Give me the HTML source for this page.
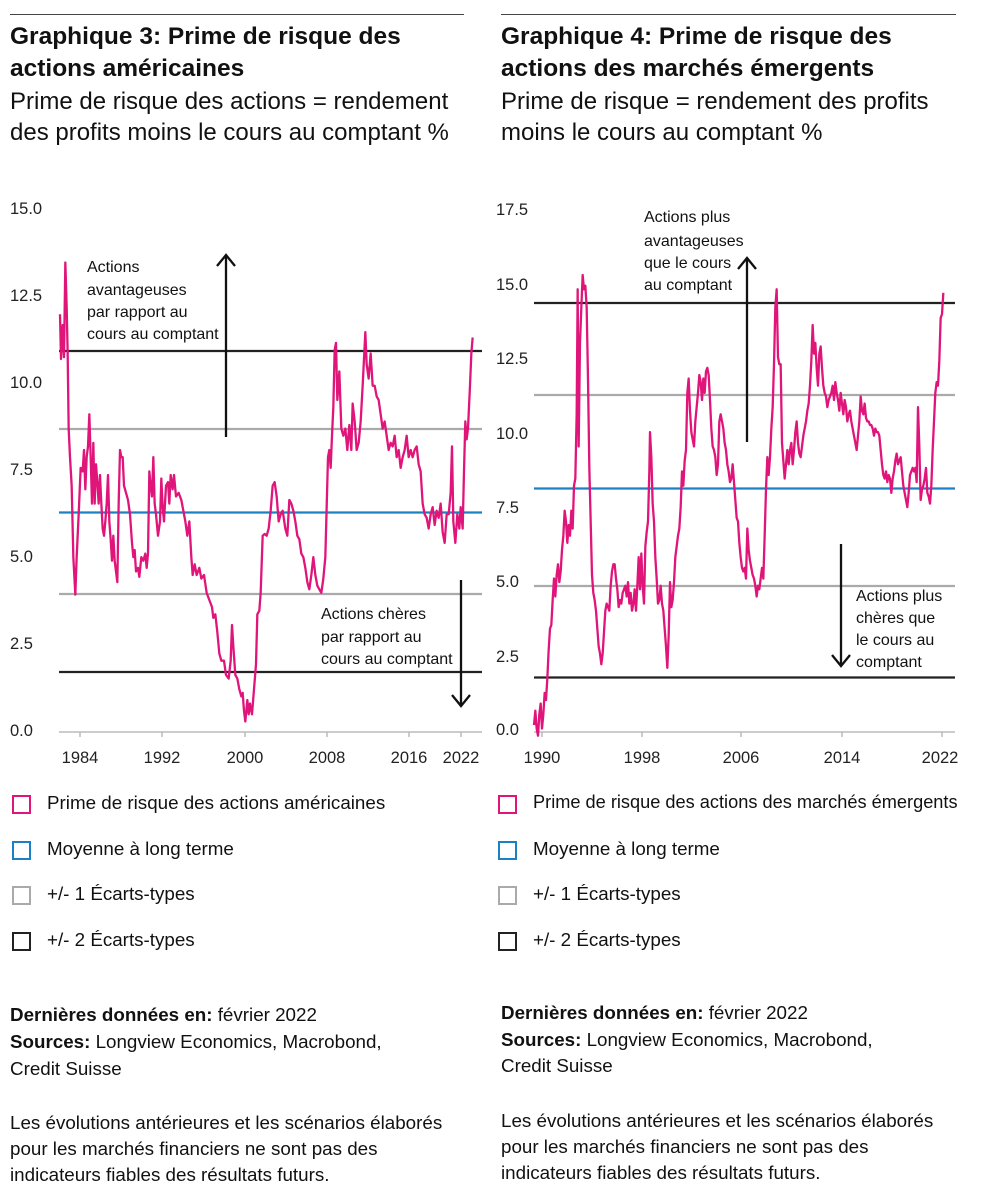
<!DOCTYPE html>
<html><head><meta charset="utf-8"><style>
body{margin:0;background:#fff;width:988px;height:1200px;position:relative;font-family:"Liberation Sans",sans-serif;color:#111;overflow:hidden}
.t{position:absolute;white-space:nowrap}
.h{font-weight:bold;font-size:24.5px}
.s{font-size:24px}
.lg{font-size:18.8px}
.sq{position:absolute;width:15px;height:15px;border:2px solid}
.f{font-size:18.8px}
</style></head><body>
<div style="position:absolute;left:10px;top:14px;width:454px;border-top:1px solid #444"></div>
<div style="position:absolute;left:501px;top:14px;width:455px;border-top:1px solid #444"></div>

<div class="t h" style="left:10px;top:23px">Graphique 3: Prime de risque des</div>
<div class="t h" style="left:10px;top:55px">actions américaines</div>
<div class="t s" style="left:10px;top:88px">Prime de risque des actions = rendement</div>
<div class="t s" style="left:10px;top:119px">des profits moins le cours au comptant %</div>

<div class="t h" style="left:501px;top:23px">Graphique 4: Prime de risque des</div>
<div class="t h" style="left:501px;top:55px">actions des marchés émergents</div>
<div class="t s" style="left:501px;top:88px">Prime de risque = rendement des profits</div>
<div class="t s" style="left:501px;top:119px">moins le cours au comptant %</div>

<svg width="988" height="1200" style="position:absolute;left:0;top:0" font-family="Liberation Sans, sans-serif">
<g font-size="16.5" fill="#222">
<text x="10" y="214">15.0</text><text x="10" y="301">12.5</text><text x="10" y="388">10.0</text><text x="10" y="475">7.5</text><text x="10" y="562">5.0</text><text x="10" y="649">2.5</text><text x="10" y="736">0.0</text>
<text x="496" y="215">17.5</text><text x="496" y="290">15.0</text><text x="496" y="364">12.5</text><text x="496" y="439">10.0</text><text x="496" y="513">7.5</text><text x="496" y="587">5.0</text><text x="496" y="662">2.5</text><text x="496" y="735">0.0</text>
<g text-anchor="middle">
<text x="80" y="763">1984</text><text x="162" y="763">1992</text><text x="245" y="763">2000</text><text x="327" y="763">2008</text><text x="409" y="763">2016</text><text x="461" y="763">2022</text>
<text x="542" y="763">1990</text><text x="642" y="763">1998</text><text x="741" y="763">2006</text><text x="842" y="763">2014</text><text x="940" y="763">2022</text>
</g></g>
<g stroke="#bbb" stroke-width="1.5">
<line x1="59" y1="732" x2="482" y2="732"/><line x1="534" y1="732" x2="955" y2="732"/>
<line x1="80" y1="732" x2="80" y2="737"/><line x1="162" y1="732" x2="162" y2="737"/><line x1="245" y1="732" x2="245" y2="737"/><line x1="327" y1="732" x2="327" y2="737"/><line x1="409" y1="732" x2="409" y2="737"/><line x1="461" y1="732" x2="461" y2="737"/>
<line x1="542" y1="732" x2="542" y2="737"/><line x1="642" y1="732" x2="642" y2="737"/><line x1="741" y1="732" x2="741" y2="737"/><line x1="842" y1="732" x2="842" y2="737"/><line x1="942" y1="732" x2="942" y2="737"/>
</g>
<g stroke-width="2.2">
<line x1="59" y1="351" x2="482" y2="351" stroke="#222"/>
<line x1="59" y1="429" x2="482" y2="429" stroke="#aaa"/>
<line x1="59" y1="512.5" x2="482" y2="512.5" stroke="#1b80c4"/>
<line x1="59" y1="594" x2="482" y2="594" stroke="#aaa"/>
<line x1="59" y1="672" x2="482" y2="672" stroke="#222"/>
<line x1="534" y1="303" x2="955" y2="303" stroke="#222"/>
<line x1="534" y1="395" x2="955" y2="395" stroke="#aaa"/>
<line x1="534" y1="488.5" x2="955" y2="488.5" stroke="#1b80c4"/>
<line x1="534" y1="586" x2="955" y2="586" stroke="#aaa"/>
<line x1="534" y1="677.5" x2="955" y2="677.5" stroke="#222"/>
</g>
<g fill="none" stroke="#e0157a" stroke-width="2.3" stroke-linejoin="round">
<g transform="translate(0,200) scale(0.33333,0.35714)">
<polyline vector-effect="non-scaling-stroke" points="180,320 183,445 188,350 192,440 196,175 200,300 203,430 206,640 210,720 215,800 220,1000 226,1105 230,1000 236,880 242,750 248,760 252,700 256,810 260,720 264,690 268,600 272,720 276,850 280,680 284,850 288,740 292,790 296,850 300,770 304,850 308,920 312,940 316,900 320,850 324,770 328,900 332,950 336,1010 340,940 344,1010 348,1040 352,1070 356,850 360,700 364,720 368,720 372,800 378,820 384,840 390,880 396,960 400,1000 404,980 408,1040 414,1030 418,1055 424,1000 430,1010 436,990 440,1030 444,990 448,760 452,800 456,830 460,720 464,850 468,880 474,940 480,900 484,780 488,860 492,900 498,800 504,790 508,850 512,770 518,810 522,770 528,830 536,820 544,840 550,870 556,900 562,940 568,900 574,1000 578,1050 584,1020 590,1050 598,1030 604,1060 612,1050 620,1100 628,1120 636,1140 640,1170 646,1160 652,1210 658,1270 664,1290 672,1290 678,1330 686,1340 692,1290 696,1190 700,1250 706,1330 712,1340 718,1370 724,1390 728,1380 732,1430 736,1460 742,1400 746,1440 750,1410 756,1440 762,1370 768,1300 772,1160 778,1150 782,1100 788,940 794,935 800,940 806,920 812,870 818,800 824,790 830,830 836,900 842,880 848,870 856,920 862,940 868,840 874,850 880,870 886,900 892,940 898,950 904,990 910,1000 916,1030 922,1070 928,1090 934,1050 940,1000 946,1050 952,1080 958,1090 964,1100 970,1060 976,1000 980,860 984,720 988,700 992,750 996,660 1000,580 1004,420 1008,400 1012,560 1018,480 1024,640 1030,660 1036,640 1042,700 1048,630 1054,700 1058,570 1064,620 1070,700 1076,680 1082,620 1088,520 1096,370 1100,460 1106,500 1112,430 1118,520 1124,520 1130,550 1136,560 1142,600 1148,640 1154,620 1160,660 1166,700 1172,680 1178,690 1184,660 1190,720 1196,700 1202,750 1208,720 1214,700 1220,660 1226,720 1232,700 1238,720 1244,700 1250,690 1256,740 1262,760 1268,850 1274,880 1280,890 1286,920 1292,880 1298,860 1304,910 1310,870 1316,890 1322,850 1328,930 1334,960 1340,880 1346,880 1352,820 1356,690 1360,900 1366,960 1372,880 1378,920 1382,860 1388,920 1392,760 1396,620 1400,670 1404,640 1410,520 1414,430 1418,385"/>
</g>
<g transform="translate(490,200) scale(0.33333,0.35714)">
<polyline vector-effect="non-scaling-stroke" points="132,1470 136,1430 140,1480 144,1500 148,1440 152,1410 156,1480 160,1440 164,1380 168,1400 172,1340 176,1260 180,1200 184,1190 188,1120 192,1060 196,1110 200,1050 204,1020 208,1070 212,1040 216,980 220,940 224,870 228,900 232,960 236,910 240,940 244,870 248,920 252,800 256,780 260,600 263,250 266,690 270,400 274,300 278,210 282,250 286,240 290,300 294,500 298,750 302,900 306,1050 310,1100 314,1120 318,1150 322,1200 326,1250 330,1270 334,1300 338,1270 342,1210 346,1150 350,1130 354,1140 358,1150 362,1080 366,1040 370,1020 374,1020 378,1060 382,1090 386,1140 390,1120 394,1130 398,1100 402,1090 406,1080 410,1110 414,1070 418,1130 422,1100 426,1150 430,1130 434,1090 438,1150 442,1080 446,1000 450,1090 454,990 458,1080 462,1130 466,970 470,930 474,900 478,760 480,650 484,720 488,850 492,900 496,1000 500,1060 504,1130 508,1120 512,1080 516,1130 520,1150 524,1200 528,1250 532,1310 536,1220 540,1070 544,1140 548,1120 552,1070 556,1000 560,970 564,940 568,920 572,860 576,760 580,800 584,730 588,700 592,540 596,500 600,590 604,650 608,670 612,690 616,620 620,580 624,540 628,490 632,510 636,560 640,500 644,540 648,480 652,470 656,490 660,560 664,640 668,690 672,700 676,720 680,770 684,740 688,620 692,600 696,620 700,640 704,680 708,700 712,740 716,760 720,790 724,780 728,740 732,790 736,840 740,890 744,900 748,960 752,1000 756,1030 760,1040 764,1030 768,1060 772,920 776,980 780,1010 784,1030 788,1050 792,1060 796,1080 800,1110 804,1080 808,1090 812,1060 816,1030 820,1060 824,940 828,810 832,720 836,770 840,720 844,640 848,580 852,460 856,300 860,250 864,440 868,460 872,460 876,680 880,730 884,780 888,740 892,700 896,740 900,700 904,680 908,740 912,700 916,650 920,620 924,680 928,710 932,720 936,690 940,660 944,640 948,620 952,590 956,570 960,520 964,450 968,350 972,430 976,400 980,470 984,520 988,430 992,410 996,470 1000,520 1004,540 1008,550 1012,580 1016,560 1020,550 1024,540 1028,520 1032,560 1036,510 1040,540 1044,560 1048,590 1052,540 1056,570 1060,600 1064,560 1068,580 1072,620 1076,600 1080,590 1084,620 1088,640 1092,660 1096,680 1100,700 1104,660 1108,620 1112,550 1116,590 1120,600 1124,570 1128,610 1132,620 1136,620 1140,630 1144,630 1148,640 1152,660 1156,640 1160,650 1164,650 1168,660 1172,700 1176,740 1180,770 1184,780 1188,760 1192,790 1196,770 1200,780 1204,820 1208,780 1212,760 1216,730 1220,710 1224,740 1228,730 1232,720 1236,760 1240,800 1244,820 1248,840 1252,860 1256,820 1260,770 1264,760 1268,750 1272,760 1276,750 1280,790 1284,580 1288,690 1292,840 1296,810 1300,800 1304,780 1308,750 1312,820 1316,830 1320,850 1324,800 1328,700 1332,620 1336,540 1340,510 1344,520 1348,450 1352,330 1356,320 1360,260"/>
</g></g>
<g stroke="#111" stroke-width="2.3" fill="none">
<line x1="226" y1="437" x2="226" y2="256"/><polyline points="217,266 226,255 235,266"/>
<line x1="461" y1="580" x2="461" y2="705"/><polyline points="452,695 461,706 470,695"/>
<line x1="747" y1="442" x2="747" y2="259"/><polyline points="738,269 747,258 756,269"/>
<line x1="841" y1="544" x2="841" y2="665"/><polyline points="832,655 841,666 850,655"/>
</g>
<g font-size="16" fill="#111">
<text x="87" y="272">Actions</text><text x="87" y="295">avantageuses</text><text x="87" y="317">par rapport au</text><text x="87" y="339">cours au comptant</text>
<text x="321" y="619">Actions chères</text><text x="321" y="642">par rapport au</text><text x="321" y="664">cours au comptant</text>
<text x="644" y="222">Actions plus</text><text x="644" y="246">avantageuses</text><text x="644" y="268">que le cours</text><text x="644" y="290">au comptant</text>
<text x="856" y="601">Actions plus</text><text x="856" y="623">chères que</text><text x="856" y="645">le cours au</text><text x="856" y="667">comptant</text>
</g>
</svg>

<div class="sq" style="left:12px;top:795px;border-color:#e0157a"></div><div class="t lg" style="left:47px;top:792px">Prime de risque des actions américaines</div>
<div class="sq" style="left:12px;top:841px;border-color:#1b80c4"></div><div class="t lg" style="left:47px;top:838px">Moyenne à long terme</div>
<div class="sq" style="left:12px;top:886px;border-color:#aaa"></div><div class="t lg" style="left:47px;top:883px">+/- 1 Écarts-types</div>
<div class="sq" style="left:12px;top:932px;border-color:#222"></div><div class="t lg" style="left:47px;top:929px">+/- 2 Écarts-types</div>

<div class="sq" style="left:498px;top:795px;border-color:#e0157a"></div><div class="t lg" style="left:533px;top:792px;font-size:18.2px">Prime de risque des actions des marchés émergents</div>
<div class="sq" style="left:498px;top:841px;border-color:#1b80c4"></div><div class="t lg" style="left:533px;top:838px">Moyenne à long terme</div>
<div class="sq" style="left:498px;top:886px;border-color:#aaa"></div><div class="t lg" style="left:533px;top:883px">+/- 1 Écarts-types</div>
<div class="sq" style="left:498px;top:932px;border-color:#222"></div><div class="t lg" style="left:533px;top:929px">+/- 2 Écarts-types</div>

<div class="t f" style="left:10px;top:1004px"><b>Dernières données en:</b> février 2022</div>
<div class="t f" style="left:10px;top:1031px"><b>Sources:</b> Longview Economics, Macrobond,</div>
<div class="t f" style="left:10px;top:1058px">Credit Suisse</div>
<div class="t f" style="left:10px;top:1112px">Les évolutions antérieures et les scénarios élaborés</div>
<div class="t f" style="left:10px;top:1138px">pour les marchés financiers ne sont pas des</div>
<div class="t f" style="left:10px;top:1164px">indicateurs fiables des résultats futurs.</div>

<div class="t f" style="left:501px;top:1002px"><b>Dernières données en:</b> février 2022</div>
<div class="t f" style="left:501px;top:1029px"><b>Sources:</b> Longview Economics, Macrobond,</div>
<div class="t f" style="left:501px;top:1055px">Credit Suisse</div>
<div class="t f" style="left:501px;top:1110px">Les évolutions antérieures et les scénarios élaborés</div>
<div class="t f" style="left:501px;top:1136px">pour les marchés financiers ne sont pas des</div>
<div class="t f" style="left:501px;top:1162px">indicateurs fiables des résultats futurs.</div>
</body></html>
